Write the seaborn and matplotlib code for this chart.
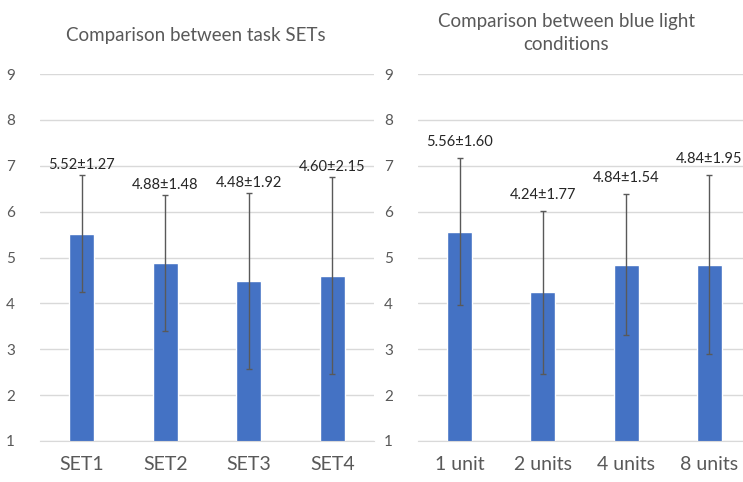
import pandas as pd
import seaborn as sns
from matplotlib import pyplot as plt

# left panel: task sets
set_names = ['SET1', 'SET2', 'SET3', 'SET4']
set_means = [5.52, 4.88, 4.48, 4.60]
set_sds = [1.27, 1.48, 1.92, 2.15]

# right panel: blue light conditions
light_names = ['1 unit', '2 units', '4 units', '8 units']
light_means = [5.56, 4.24, 4.84, 4.84]
light_sds = [1.60, 1.77, 1.54, 1.95]

sns.set_style('white')
plt.rcParams['font.family'] = ['Lato', 'DejaVu Sans']

bar_blue = '#4472C4'
grid_grey = '#D9D9D9'
text_grey = '#595959'

fig = plt.figure(figsize=(7.43, 4.82), dpi=100)
ax_left = fig.add_axes([40 / 743, 1 - 441 / 482, 334 / 743, 367 / 482])
ax_right = fig.add_axes([418 / 743, 1 - 441 / 482, 333 / 743, 367 / 482])


def draw_panel(ax, names, means, sds, label_gap):
    df = pd.DataFrame({'cond': names, 'score': means})
    sns.barplot(data=df, x='cond', y='score', color=bar_blue, width=0.3,
                saturation=1, ax=ax)
    ax.errorbar(range(len(names)), means, yerr=sds, fmt='none',
                ecolor='#595959', elinewidth=1, capsize=2.5, capthick=1)
    for i, (m, s) in enumerate(zip(means, sds)):
        ax.annotate(f'{m:.2f}\u00b1{s:.2f}', (i, m + s), xytext=(0, label_gap),
                    textcoords='offset pixels', ha='center', va='bottom',
                    fontsize=10.5, color='#262626', annotation_clip=False)
    ax.set_ylim(1, 9)
    ax.set_xlim(-0.5, len(names) - 0.5)
    ax.set_yticks(range(1, 10))
    ax.yaxis.grid(True, color=grid_grey, linewidth=1)
    ax.set_axisbelow(True)
    for side in ['top', 'right', 'left']:
        ax.spines[side].set_visible(False)
    ax.spines['bottom'].set_color(grid_grey)
    ax.tick_params(axis='y', length=0, pad=18, labelsize=11, labelcolor=text_grey)
    ax.tick_params(axis='x', length=0, pad=11, labelsize=14, labelcolor=text_grey)
    ax.set_xlabel('')
    ax.set_ylabel('')


draw_panel(ax_left, set_names, set_means, set_sds, 3)
draw_panel(ax_right, light_names, light_means, light_sds, 9)

fig.text(196 / 743, 1 - 35 / 482, 'Comparison between task SETs',
         ha='center', va='center', fontsize=13.5, color=text_grey)
fig.text(566 / 743, 1 - 33 / 482, 'Comparison between blue light\nconditions',
         ha='center', va='center', fontsize=13.5, color=text_grey,
         linespacing=1.4)

fig.savefig('out.png', dpi=100)
